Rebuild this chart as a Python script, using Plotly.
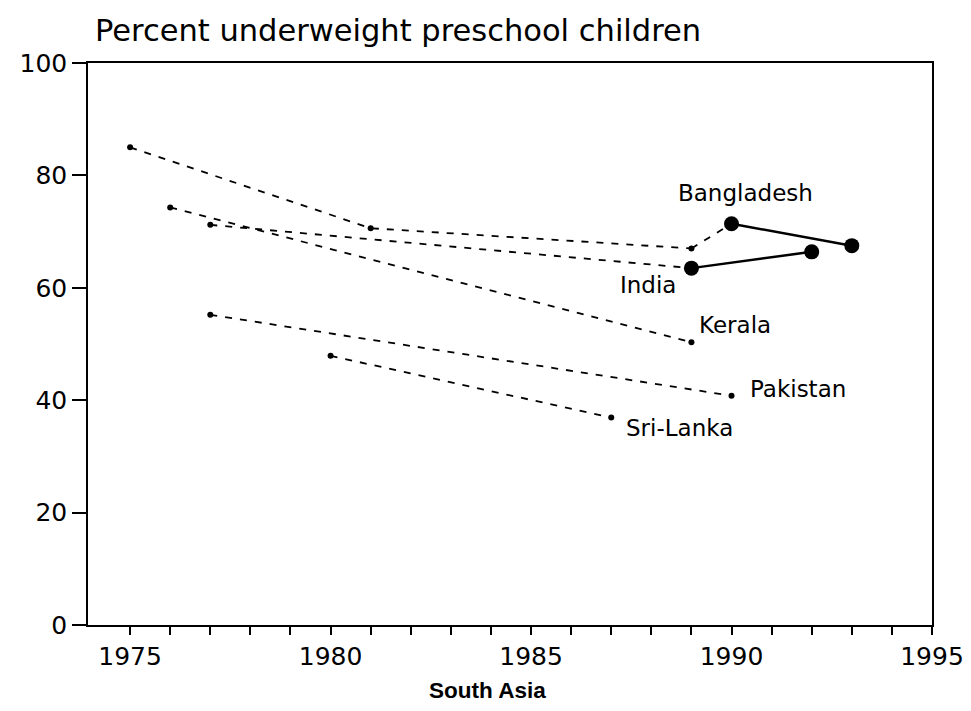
import plotly.graph_objects as go

# ---- data ----
bangladesh_dash_years = [1975, 1981, 1989, 1990]
bangladesh_dash_vals = [85.0, 70.6, 67.0, 71.4]
bangladesh_solid_years = [1990, 1993]
bangladesh_solid_vals = [71.4, 67.5]

india_dash_years = [1977, 1989]
india_dash_vals = [71.2, 63.5]
india_solid_years = [1989, 1992]
india_solid_vals = [63.5, 66.4]

kerala_years = [1976, 1989]
kerala_vals = [74.3, 50.3]

pakistan_years = [1977, 1990]
pakistan_vals = [55.2, 40.8]

srilanka_years = [1980, 1987]
srilanka_vals = [47.9, 36.9]

x_tick_years = list(range(1975, 1996))
x_tick_labels = [str(y) if y % 5 == 0 else "" for y in x_tick_years]
y_tick_vals = [0, 20, 40, 60, 80, 100]

FONT = "DejaVu Sans"
DASH = "7px,8px"

fig = go.Figure()

def dashed(xs, ys, name):
    fig.add_trace(go.Scatter(
        x=xs, y=ys, mode="lines+markers", name=name,
        line=dict(color="black", width=1.8, dash=DASH),
        marker=dict(color="black", size=6, symbol="circle"),
        showlegend=False, hoverinfo="x+y+name"))

def solid(xs, ys, name):
    fig.add_trace(go.Scatter(
        x=xs, y=ys, mode="lines+markers", name=name,
        line=dict(color="black", width=2.5),
        marker=dict(color="black", size=15, symbol="circle"),
        showlegend=False, hoverinfo="x+y+name"))

dashed(bangladesh_dash_years[:3], bangladesh_dash_vals[:3], "Bangladesh")
fig.add_trace(go.Scatter(
    x=bangladesh_dash_years[2:], y=bangladesh_dash_vals[2:], mode="lines",
    line=dict(color="black", width=1.8, dash=DASH), showlegend=False,
    hoverinfo="skip"))
dashed(india_dash_years, india_dash_vals, "India")
dashed(kerala_years, kerala_vals, "Kerala")
dashed(pakistan_years, pakistan_vals, "Pakistan")
dashed(srilanka_years, srilanka_vals, "Sri-Lanka")
solid(bangladesh_solid_years, bangladesh_solid_vals, "Bangladesh")
solid(india_solid_years, india_solid_vals, "India")

lab_font = dict(family=FONT, size=23, color="black")
annots = [
    dict(x=1990.34, y=76.9, text="Bangladesh", xanchor="center"),
    dict(x=1988.66, y=60.5, text="India", xanchor="right"),
    dict(x=1989.15, y=53.4, text="Kerala", xanchor="left"),
    dict(x=1990.41, y=42.0, text="Pakistan", xanchor="left"),
    dict(x=1987.32, y=35.1, text="Sri-Lanka", xanchor="left"),
]
for a in annots:
    fig.add_annotation(x=a["x"], y=a["y"], text=a["text"], xanchor=a["xanchor"],
                       yanchor="middle", showarrow=False, font=lab_font,
                       xref="x", yref="y")

fig.add_annotation(x=0.006, y=1.057, xref="paper", yref="paper",
                   text="Percent underweight preschool children",
                   xanchor="left", yanchor="middle", showarrow=False,
                   font=dict(family=FONT, size=30.5, color="black"))
fig.add_annotation(x=0.473, y=-0.116, xref="paper", yref="paper",
                   text="<b>South Asia</b>", xanchor="center", yanchor="middle",
                   showarrow=False,
                   font=dict(family="Liberation Sans, Arial", size=22.5, color="black"))

# page body has an 8px margin, so the figure is sized/offset to compensate
fig.update_layout(
    width=968, height=695,
    margin=dict(l=75, r=43, t=55, b=78, pad=0),
    paper_bgcolor="white", plot_bgcolor="white",
    font=dict(family=FONT, color="black"),
    xaxis=dict(range=[1973.95, 1995], tickmode="array", tickvals=x_tick_years,
               ticktext=x_tick_labels, ticks="outside", ticklen=8, tickwidth=1.5,
               tickcolor="black", showline=True, linecolor="black", linewidth=1.5,
               mirror=True, showgrid=False, zeroline=False,
               ticklabeloverflow="allow",
               tickfont=dict(family=FONT, size=25, color="black")),
    yaxis=dict(range=[0, 100], tickmode="array", tickvals=y_tick_vals,
               ticks="outside", ticklen=14, tickwidth=1.5, tickcolor="black",
               showline=True, linecolor="black", linewidth=1.5, mirror=True,
               showgrid=False, zeroline=False,
               tickfont=dict(family=FONT, size=25, color="black")),
)

fig.write_html("out.html")
